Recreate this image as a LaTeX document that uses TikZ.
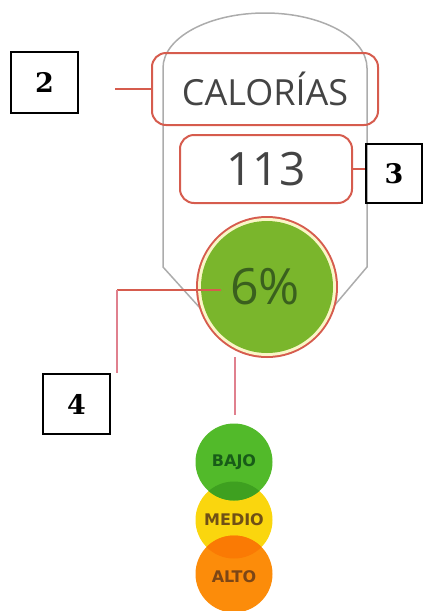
\documentclass[tikz,border=0pt]{standalone}
\usepackage{fontspec}
\setmainfont{DejaVu Serif}
\newfontfamily\opensans{Open Sans}
\newfontfamily\dvsans{DejaVu Sans}
\usetikzlibrary{calc}
\definecolor{redline}{RGB}{214,92,78}
\definecolor{pinkline}{RGB}{224,128,142}
\definecolor{shapegray}{RGB}{172,172,172}
\definecolor{bigg}{RGB}{122,182,44}
\definecolor{cream}{RGB}{250,246,200}
\definecolor{txtgray}{RGB}{68,68,68}
\definecolor{txtgreen}{RGB}{58,96,30}
\definecolor{bajoc}{RGB}{82,186,42}
\definecolor{bajod}{RGB}{62,160,32}
\definecolor{medioc}{RGB}{250,214,14}
\definecolor{altoc}{RGB}{252,140,10}
\definecolor{altod}{RGB}{250,122,4}
\definecolor{bajot}{RGB}{24,92,24}
\definecolor{mediot}{RGB}{112,80,22}
\definecolor{altot}{RGB}{124,70,22}
\tikzset{
  numbox/.style={draw=black, line width=2pt, minimum width=67pt, minimum height=61pt, inner sep=0pt, font=\bfseries\fontsize{27}{27}\selectfont},
  redbox/.style={draw=redline, line width=2pt, rounded corners=14pt, inner sep=0pt},
  conn/.style={draw=redline, line width=2pt},
  connp/.style={draw=pinkline, line width=2pt},
  light/.style={circle, minimum size=77pt, inner sep=0pt, font=\dvsans\bfseries\fontsize{16}{16}\selectfont}
}
\begin{document}
\begin{tikzpicture}[x=1pt,y=-1pt]
\useasboundingbox (0,0) rectangle (424,611);
% outer shape
\draw[shapegray, line width=1.5pt] (200,308) -- (163,267) -- (163,68) arc[start angle=180, end angle=360, x radius=102, y radius=55] -- (367,267) -- (334,306);
% boxes
\node[redbox, minimum width=226pt, minimum height=72pt, text=txtgray, font=\opensans\fontsize{36}{36}\selectfont] (cal) at (265,89) {CALORÍAS};
\node[redbox, minimum width=172pt, minimum height=68pt, text=txtgray, font=\opensans\fontsize{46}{46}\selectfont] (num) at (266,169) {113};
\node[numbox] (b2) at (44.5,82.5) {2};
\node[numbox, minimum width=56pt, minimum height=59pt] (b3) at (394,173.5) {3};
\node[numbox, minimum height=60pt] (b4) at (76.5,404) {4};
% big circle
\fill[redline] (267,287) circle[radius=71];
\fill[cream] (267,287) circle[radius=69];
\fill[bigg] (267,287) circle[radius=66];
\node[text=txtgreen, font=\opensans\fontsize{50}{50}\selectfont, inner sep=0pt] (pct) at (265,287) {6\%};
\coordinate (c2) at (115,89);
\coordinate (c4a) at (221,290);
\coordinate (c4b) at (117,290);
\coordinate (c4c) at (117,373);
\coordinate (cda) at (235,357);
\coordinate (cdb) at (235,415);
\draw[conn] (c2) -- (cal.west);
\draw[conn] (num.east) -- (num.east -| b3.west);
\draw[conn] (c4a) -- (c4b);
\draw[connp] (c4b) -- (c4c);
\draw[connp] (cda) -- (cdb);
% traffic lights
\fill[medioc] (234,520) circle[radius=38.5];
\fill[bajoc] (234,462) circle[radius=38.5];
\fill[altoc] (234,574) circle[radius=38.5];
\begin{scope}
\clip (234,520) circle[radius=38.5];
\fill[bajod] (234,462) circle[radius=38.5];
\fill[altod] (234,574) circle[radius=38.5];
\end{scope}
\node[light, text=bajot] (bajo) at (234,462) {BAJO};
\node[light, text=mediot] (medio) at (234,520) {MEDIO};
\node[light, text=altot] (alto) at (234,577) {ALTO};
\end{tikzpicture}
\end{document}
